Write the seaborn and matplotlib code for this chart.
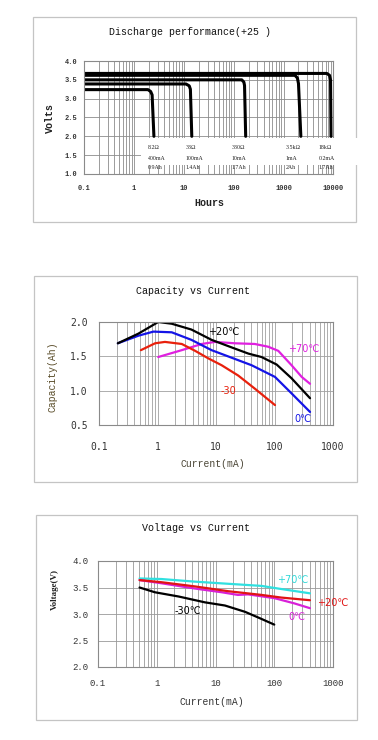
import matplotlib
matplotlib.use("Agg")
import matplotlib.pyplot as plt
import matplotlib.ticker as mticker
from matplotlib.patches import Rectangle
import seaborn as sns

# ---- data ----
# discharge curves at +25C (hours vs volts), one per load resistor
LOADS = ["8.2Ω", "33Ω", "330Ω", "3.5kΩ", "18kΩ"]
LOAD_CURRENT = ["400mA", "100mA", "10mA", "1mA", "0.2mA"]
LOAD_CAPACITY = ["0.9Ah", "1.4Ah", "1.7Ah", "2Ah", "1.7Ah"]
HOURS_8R2 = [0.1, 1.9, 2.15, 2.3, 2.5]
VOLTS_8R2 = [3.24, 3.24, 3.19, 3.10, 2.0]
HOURS_33R = [0.1, 11, 12.8, 13.5, 14.4]
VOLTS_33R = [3.39, 3.39, 3.34, 3.25, 2.0]
HOURS_330R = [0.1, 145, 160, 165, 174]
VOLTS_330R = [3.50, 3.50, 3.44, 3.35, 2.0]
HOURS_3K5 = [0.1, 1700, 1900, 2000, 2230]
VOLTS_3K5 = [3.62, 3.62, 3.55, 3.40, 2.0]
HOURS_18K = [0.1, 7400, 8400, 8800, 9000]
VOLTS_18K = [3.67, 3.67, 3.62, 3.50, 2.0]
HOUR_TICKS = [0.1, 1, 10, 100, 1000, 10000]
HOUR_TICK_LABELS = ["0.1", "1", "10", "100", "1000", "10000"]

# capacity vs current
CAP_P20_I = [0.21, 0.47, 1.03, 1.75, 3.8, 8.4, 18.5, 35.7, 60, 109, 196, 405]
CAP_P20_C = [1.69, 1.83, 2.00, 1.975, 1.89, 1.74, 1.63, 1.54, 1.49, 1.38, 1.18, 0.89]
CAP_0_I = [0.21, 0.47, 0.85, 1.75, 3.8, 8.4, 18.5, 40.7, 102, 196, 405]
CAP_0_C = [1.69, 1.80, 1.86, 1.85, 1.74, 1.59, 1.48, 1.37, 1.20, 0.96, 0.69]
CAP_M30_I = [0.52, 0.91, 1.34, 2.6, 4.4, 7.4, 12.5, 24, 46, 102]
CAP_M30_C = [1.59, 1.69, 1.71, 1.68, 1.58, 1.47, 1.37, 1.22, 1.03, 0.79]
CAP_P70_I = [1.03, 2.6, 5.7, 9.6, 21, 46, 78, 116, 196, 292, 405]
CAP_P70_C = [1.49, 1.59, 1.68, 1.71, 1.69, 1.68, 1.64, 1.58, 1.37, 1.20, 1.10]

# voltage vs current
VOL_P70_I = [0.51, 1.2, 4.5, 16.5, 61, 117, 405]
VOL_P70_V = [3.67, 3.66, 3.61, 3.57, 3.53, 3.48, 3.39]
VOL_P20_I = [0.51, 1.2, 4.5, 16.5, 61, 132, 405]
VOL_P20_V = [3.64, 3.60, 3.52, 3.43, 3.36, 3.31, 3.26]
VOL_0_I = [0.51, 1.2, 4.5, 12.8, 24, 35.8, 100, 220, 405]
VOL_0_V = [3.64, 3.58, 3.48, 3.41, 3.36, 3.37, 3.30, 3.20, 3.11]
VOL_M30_I = [0.51, 0.93, 2.36, 6.6, 14.5, 32, 57, 100]
VOL_M30_V = [3.50, 3.41, 3.33, 3.22, 3.16, 3.04, 2.92, 2.80]
CURRENT_TICKS = [0.1, 1, 10, 100, 1000]
CURRENT_TICK_LABELS = ["0.1", "1", "10", "100", "1000"]

W, H = 378, 740
MONO = "Liberation Mono"
SANS = ["DejaVu Sans", "Noto Sans CJK SC"]


def fx(px):
    return px / W


def fy(py):
    return 1 - py / H


def add_axes(fig, left, top, right, bottom):
    return fig.add_axes([fx(left), fy(bottom), fx(right) - fx(left), (bottom - top) / H])


def box(fig, left, top, right, bottom):
    fig.patches.append(Rectangle((fx(left), fy(bottom)), fx(right) - fx(left), (bottom - top) / H,
                                 transform=fig.transFigure, fill=False, ec="#c4c4c4", lw=0.9))


def style_log_axes(ax, xlim, ylim, yticks, xticks, xlabels, grid_color, tick_font, tick_size,
                   xpad, ypad, weight="normal"):
    ax.set_xscale("log")
    ax.set_xlim(*xlim)
    ax.set_ylim(*ylim)
    ax.xaxis.set_major_locator(mticker.FixedLocator(xticks))
    ax.xaxis.set_major_formatter(mticker.FixedFormatter(xlabels))
    ax.xaxis.set_minor_locator(mticker.LogLocator(base=10, subs=range(1, 10), numticks=20))
    ax.xaxis.set_minor_formatter(mticker.NullFormatter())
    ax.set_yticks(yticks)
    ax.set_yticklabels([f"{t:.1f}" for t in yticks])
    ax.grid(True, which="both", axis="x", color=grid_color, lw=0.6)
    ax.grid(True, which="major", axis="y", color=grid_color, lw=0.6)
    ax.tick_params(which="both", length=0)
    ax.tick_params(axis="x", pad=xpad)
    ax.tick_params(axis="y", pad=ypad)
    for lab in ax.get_xticklabels() + ax.get_yticklabels():
        lab.set_fontfamily(tick_font)
        lab.set_fontsize(tick_size)
        lab.set_color("#333333")
        lab.set_fontweight(weight)
    for s in ax.spines.values():
        s.set_color("#8a8a8a")
        s.set_linewidth(0.8)
    ax.set_xlabel("")
    ax.set_ylabel("")
    ax.set_axisbelow(True)


sns.set_style("white")
plt.rcParams["font.family"] = SANS

fig = plt.figure(figsize=(W / 100, H / 100), dpi=100)

# ---------- panel 1: discharge performance ----------
box(fig, 33, 17, 356, 222)
ax1 = add_axes(fig, 84.3, 61, 333.3, 174)
curves = [(HOURS_8R2, VOLTS_8R2), (HOURS_33R, VOLTS_33R), (HOURS_330R, VOLTS_330R),
          (HOURS_3K5, VOLTS_3K5), (HOURS_18K, VOLTS_18K)]
for hrs, vts in curves:
    sns.lineplot(x=hrs, y=vts, ax=ax1, color="black", lw=2.2, sort=False, estimator=None)
style_log_axes(ax1, (0.1, 10000), (1.0, 4.0), [1.0, 1.5, 2.0, 2.5, 3.0, 3.5, 4.0],
               HOUR_TICKS, HOUR_TICK_LABELS, "#8c8c8c", MONO, 5, 8, 5, weight="bold")
fig.text(fx(190), fy(32), "Discharge performance(+25 )", family=MONO, fontsize=7.2,
         ha="center", va="center", color="#111111")
fig.text(fx(50), fy(118), "Volts", family=MONO, fontsize=7.2, rotation=90,
         ha="center", va="center", weight="bold", color="#222222")
fig.text(fx(209), fy(203), "Hours", family=MONO, fontsize=7.2,
         ha="center", va="center", weight="bold", color="#222222")
# white label table over the lower grid
fig.patches.append(Rectangle((fx(141), fy(165)), fx(359) - fx(141), (165 - 138) / H,
                             transform=fig.transFigure, fc="white", ec="none", zorder=3))
col_x = [148, 186, 232, 286, 319]
for i in range(len(LOADS)):
    for row_y, txt in zip([147.7, 158.3, 167.7], [LOADS[i], LOAD_CURRENT[i], LOAD_CAPACITY[i]]):
        fig.text(fx(col_x[i]), fy(row_y), txt, family="Liberation Serif", fontsize=4.2,
                 ha="left", va="center", color="#222222", zorder=4)

# ---------- panel 2: capacity vs current ----------
box(fig, 34, 276, 357, 482)
ax2 = add_axes(fig, 99, 322, 333, 425)
sns.lineplot(x=CAP_P70_I, y=CAP_P70_C, ax=ax2, color="#e020e0", lw=1.6, sort=False, estimator=None)
sns.lineplot(x=CAP_M30_I, y=CAP_M30_C, ax=ax2, color="#e8200c", lw=1.6, sort=False, estimator=None)
sns.lineplot(x=CAP_0_I, y=CAP_0_C, ax=ax2, color="#1414e6", lw=1.6, sort=False, estimator=None)
sns.lineplot(x=CAP_P20_I, y=CAP_P20_C, ax=ax2, color="black", lw=1.6, sort=False, estimator=None)
style_log_axes(ax2, (0.1, 1000), (0.5, 2.0), [0.5, 1.0, 1.5, 2.0],
               CURRENT_TICKS, CURRENT_TICK_LABELS, "#a0a0a0", "DejaVu Sans Mono", 7, 12, 8)
fig.text(fx(193), fy(290.7), "Capacity vs Current", family=MONO, fontsize=7.2,
         ha="center", va="center", color="#111111")
fig.text(fx(53), fy(377), "Capacity(Ah)", family=MONO, fontsize=7, rotation=90,
         ha="center", va="center", color="#5a4d2a")
fig.text(fx(213), fy(464), "Current(mA)", family=MONO, fontsize=7,
         ha="center", va="center", color="#4a4535")
fig.text(fx(208), fy(332), "+20℃", fontsize=7, ha="left", va="center", color="black")
fig.text(fx(288), fy(349), "+70℃", fontsize=7, ha="left", va="center", color="#e020e0")
fig.text(fx(221), fy(391), "-30", fontsize=7, ha="left", va="center", color="#e8200c")
fig.text(fx(294), fy(419), "0℃", fontsize=7, ha="left", va="center", color="#1414e6")

# ---------- panel 3: voltage vs current ----------
box(fig, 36, 515, 357, 720)
ax3 = add_axes(fig, 98, 561, 333, 667)
sns.lineplot(x=VOL_M30_I, y=VOL_M30_V, ax=ax3, color="black", lw=1.6, sort=False, estimator=None)
sns.lineplot(x=VOL_P70_I, y=VOL_P70_V, ax=ax3, color="#30e0e0", lw=1.6, sort=False, estimator=None)
sns.lineplot(x=VOL_0_I, y=VOL_0_V, ax=ax3, color="#d820d8", lw=1.6, sort=False, estimator=None)
sns.lineplot(x=VOL_P20_I, y=VOL_P20_V, ax=ax3, color="#e01414", lw=1.6, sort=False, estimator=None)
style_log_axes(ax3, (0.1, 1000), (2.0, 4.0), [2.0, 2.5, 3.0, 3.5, 4.0],
               CURRENT_TICKS, CURRENT_TICK_LABELS, "#999999", MONO, 6.5, 9, 7)
fig.text(fx(196), fy(528), "Voltage vs Current", family=MONO, fontsize=7.2,
         ha="center", va="center", color="#111111")
fig.text(fx(55), fy(589), "Voltage(V)", family="Liberation Serif", fontsize=6.5, rotation=90,
         ha="center", va="center", weight="bold", color="#222222")
fig.text(fx(212), fy(702), "Current(mA)", family=MONO, fontsize=7,
         ha="center", va="center", color="#333333")
fig.text(fx(277), fy(580), "+70℃", fontsize=7, ha="left", va="center", color="#30d8d8")
fig.text(fx(317), fy(603), "+20℃", fontsize=7, ha="left", va="center", color="#e01414")
fig.text(fx(288), fy(617), "0℃", fontsize=7, ha="left", va="center", color="#d820d8")
fig.text(fx(175), fy(611), "-30℃", fontsize=7, ha="left", va="center", color="black")

fig.savefig("out.png", dpi=100, facecolor="white")
